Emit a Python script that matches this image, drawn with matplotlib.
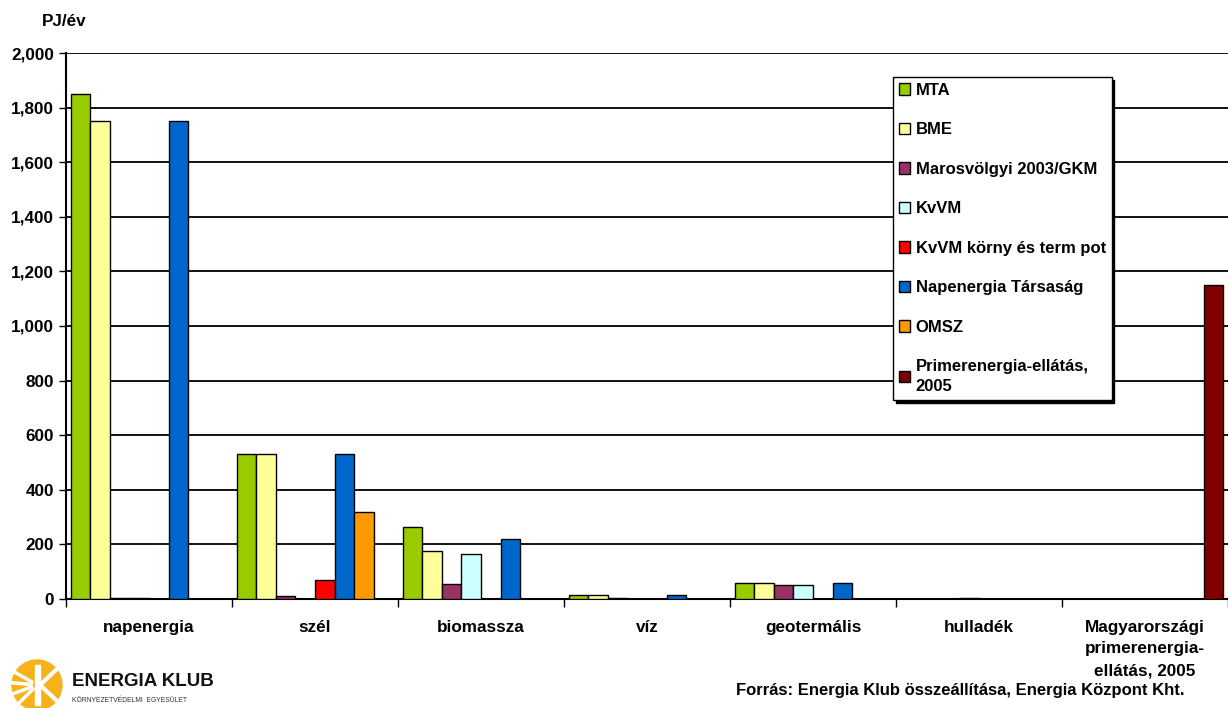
import matplotlib
matplotlib.use("Agg")
import matplotlib.pyplot as plt
import numpy as np
from matplotlib.patches import Circle, Polygon
from matplotlib.ticker import FuncFormatter, MultipleLocator

plt.rcParams['font.family'] = ['Liberation Sans', 'DejaVu Sans']
plt.rcParams['font.weight'] = 'bold'

categories = ["napenergia", "szél", "biomassza", "víz", "geotermális", "hulladék",
              "Magyarországi\nprimerenergia-\nellátás, 2005"]

series_names = ["MTA", "BME", "Marosvölgyi 2003/GKM", "KvVM", "KvVM körny és term pot",
                "Napenergia Társaság", "OMSZ", "Primerenergia-ellátás,\n2005"]

mta        = [1850, 530, 265, 15, 60, 0, 0]
bme        = [1750, 530, 175, 15, 60, 0, 0]
marosvolgyi = [4, 10, 55, 3, 50, 0, 0]
kvvm       = [4, 0, 165, 0, 50, 3, 0]
kvvm_korny = [0, 70, 0, 0, 0, 0, 0]
napenergia_tars = [1750, 530, 220, 15, 60, 0, 0]
omsz       = [0, 320, 0, 0, 0, 0, 0]
primer     = [0, 0, 0, 0, 0, 0, 1150]

series_values = [mta, bme, marosvolgyi, kvvm, kvvm_korny, napenergia_tars, omsz, primer]
colors = ["#99CC00", "#FFFF99", "#993366", "#CCFFFF", "#FF0000", "#0066CC", "#FF9900", "#800000"]

FS = 12.3

fig = plt.figure(figsize=(12.28, 7.08), dpi=100)
ax = fig.add_axes([66 / 1228, 1 - 599 / 708, 1 - 66 / 1228, (599 - 53) / 708])

x = np.arange(len(categories))
n = len(series_values)
width = 0.1175
handles = []
for i, (vals, col, name) in enumerate(zip(series_values, colors, series_names)):
    offs = (i - (n - 1) / 2) * width
    # empty entries are left out rather than drawn as flat outlines
    shown = [v if v > 0 else np.nan for v in vals]
    bars = ax.bar(x + offs, shown, width, color=col, edgecolor="black", linewidth=1.0,
                  label=name, zorder=3)
    handles.append(bars)

ax.set_xlim(-0.5, len(categories) - 0.5)
ax.set_ylim(0, 2000)
ax.yaxis.set_major_locator(MultipleLocator(200))
ax.yaxis.set_major_formatter(FuncFormatter(lambda v, p: f"{int(v):,}"))
ax.grid(axis="y", color="black", linewidth=1.3, zorder=0)
ax.set_axisbelow(True)

# group separators on the category axis
ax.set_xticks(np.arange(len(categories) + 1) - 0.5, minor=False)
ax.set_xticklabels([])
ax.tick_params(axis="x", which="major", length=6, width=1, direction="out")
ax.set_xticks(x, minor=True)
ax.set_xticklabels(categories, minor=True, fontsize=FS, fontweight="bold", linespacing=1.55)
ax.tick_params(axis="x", which="minor", length=0, pad=15)
ax.tick_params(axis="y", labelsize=FS, length=5, width=1, direction="out")
for lab in ax.get_yticklabels():
    lab.set_fontweight("bold")

for side in ["top", "right"]:
    ax.spines[side].set_visible(False)
ax.spines["left"].set_linewidth(1.5)
ax.spines["bottom"].set_linewidth(1.5)

fig.text(42 / 1228, 1 - 22 / 708, "PJ/év", fontsize=FS, fontweight="bold", va="center", ha="left")

leg = fig.legend(handles=handles, labels=series_names, loc="upper left",
                 bbox_to_anchor=(893 / 1228, 1 - 77 / 708), borderaxespad=0,
                 fontsize=12, frameon=True, fancybox=False, edgecolor="black",
                 handlelength=0.65, handleheight=0.65, handletextpad=0.35,
                 labelspacing=1.47, borderpad=0.35,
                 shadow={"color": "black", "alpha": 1.0})
leg.get_frame().set_linewidth(1.0)
for t in leg.get_texts():
    t.set_fontweight("bold")
    t.set_linespacing(1.4)

fig.text(1185 / 1228, 1 - 690 / 708, "Forrás: Energia Klub összeállítása, Energia Központ Kht.",
         fontsize=12, fontweight="bold", ha="right", va="center")

# organisation logo
lax = fig.add_axes([0, 0, 75 / 1228, 75 / 708])
lax.set_xlim(0, 75)
lax.set_ylim(0, 75)
lax.set_aspect("equal")
lax.axis("off")
cx, cy, r = 37, 23, 25
lax.add_patch(Circle((cx, cy), r, color="#F7B21B"))
for ang in [150, 175, 200, 225]:
    a = np.deg2rad(ang)
    lax.plot([cx + 6 * np.cos(a), cx + r * 1.05 * np.cos(a)],
             [cy + 6 * np.sin(a), cy + r * 1.05 * np.sin(a)], color="white", lw=2.5)
lax.add_patch(Polygon([[cx - 2, cy + 20], [cx + 3, cy + 20], [cx + 3, cy - 20], [cx - 2, cy - 20]],
                      color="white"))
lax.plot([cx + 3, cx + 20], [cy, cy + 16], color="white", lw=3)
lax.plot([cx + 3, cx + 20], [cy, cy - 16], color="white", lw=3)

fig.text(72 / 1228, 1 - 681 / 708, "ENERGIA KLUB", fontsize=13.5, fontweight="bold",
         ha="left", va="center", color="#111111")
fig.text(72 / 1228, 1 - 701 / 708, "KÖRNYEZETVÉDELMI  EGYESÜLET", fontsize=4.9,
         ha="left", va="center", color="#333333", fontweight="normal")

fig.savefig("out.png", dpi=100)
